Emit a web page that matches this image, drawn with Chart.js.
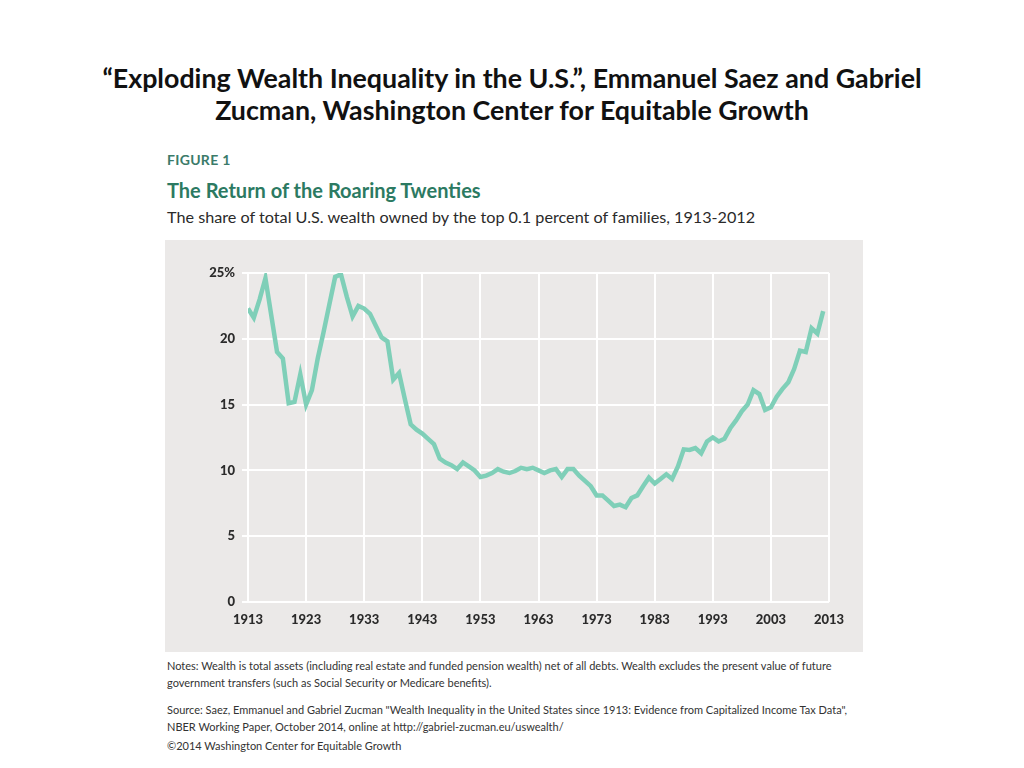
<!DOCTYPE html>
<html>
<head>
<meta charset="utf-8">
<script src="https://cdn.jsdelivr.net/npm/chart.js@4"></script>
<style>
    body { margin: 0; width: 1024px; height: 768px; background: #fff; position: relative; overflow: hidden; font-family: Lato, sans-serif; }
    .title { position: absolute; left: 0; width: 1024px; top: 62px; text-align: center; font-weight: bold; font-size: 26.8px; line-height: 32px; color: #111; }
    .fig { position: absolute; left: 167px; top: 151px; font-size: 14px; font-weight: bold; color: #3b7b6a; letter-spacing: 0.3px; }
    .head { position: absolute; left: 167px; top: 178px; font-size: 20px; font-weight: bold; color: #2c7a62; }
    .sub { position: absolute; left: 167px; top: 207px; font-size: 16.2px; color: #2a2a2a; }
    .panel { position: absolute; left: 165px; top: 240px; width: 698px; height: 412px; background: #ebe9e8; }
    .notes { position: absolute; left: 167px; font-size: 11px; color: #333; line-height: 17px; }
</style>
</head>
<body>
<div class="title">“Exploding Wealth Inequality in the U.S.”, Emmanuel Saez and Gabriel<br>Zucman, Washington Center for Equitable Growth</div>
<div class="fig">FIGURE 1</div>
<div class="head">The Return of the Roaring Twenties</div>
<div class="sub">The share of total U.S. wealth owned by the top 0.1 percent of families, 1913-2012</div>
<div class="panel"><canvas id="chart" width="698" height="412"></canvas></div>
<div class="notes" style="top:657px">Notes: Wealth is total assets (including real estate and funded pension wealth) net of all debts. Wealth excludes the present value of future<br>government transfers (such as Social Security or Medicare benefits).</div>
<div class="notes" style="top:701px">Source: Saez, Emmanuel and Gabriel Zucman "Wealth Inequality in the United States since 1913: Evidence from Capitalized Income Tax Data",<br>NBER Working Paper, October 2014, online at http://gabriel-zucman.eu/uswealth/</div>
<div class="notes" style="top:737px">©2014 Washington Center for Equitable Growth</div>
<script>
"use strict";

const firstYear = 1913;
// share of wealth held by top 0.1%, one value per year 1913-2012
const top01Share = [
    22.3, 21.6, 23.0, 24.6, 21.8, 19.0, 18.5, 15.1, 15.2, 17.3,
    15.0, 16.1, 18.5, 20.5, 22.6, 24.7, 24.9, 23.2, 21.7, 22.5,
    22.3, 21.9, 21.0, 20.1, 19.8, 16.9, 17.4, 15.4, 13.5, 13.1,
    12.8, 12.4, 12.0, 10.9, 10.6, 10.4, 10.1, 10.6, 10.3, 10.0,
    9.5, 9.6, 9.8, 10.1, 9.9, 9.8, 9.95, 10.2, 10.1, 10.2,
    10.0, 9.8, 10.0, 10.1, 9.5, 10.1, 10.1, 9.6, 9.2, 8.8,
    8.1, 8.1, 7.7, 7.3, 7.4, 7.2, 7.9, 8.1, 8.8, 9.45,
    9.0, 9.35, 9.7, 9.35, 10.3, 11.6, 11.55, 11.7, 11.3, 12.2,
    12.5, 12.2, 12.4, 13.2, 13.8, 14.5, 15.0, 16.1, 15.8, 14.6,
    14.8, 15.6, 16.2, 16.7, 17.7, 19.1, 19.0, 20.8, 20.4, 22.1
];
const xTicks = [1913, 1923, 1933, 1943, 1953, 1963, 1973, 1983, 1993, 2003, 2013];
const yTicks = [0, 5, 10, 15, 20, 25];

const points = top01Share.map((v, i) => ({ x: firstYear + i, y: v }));
const tickFont = { family: 'Lato', weight: '900', size: 13 };

new Chart(document.getElementById('chart'), {
    type: 'line',
    data: {
        datasets: [{
            data: points,
            borderColor: '#7fcfb8',
            borderWidth: 4.5,
            pointRadius: 0,
            tension: 0,
            fill: false
        }]
    },
    options: {
        responsive: false,
        animation: false,
        layout: { padding: { top: 33, right: 34, left: 0, bottom: 0 } },
        plugins: { legend: { display: false }, tooltip: { enabled: false } },
        scales: {
            x: {
                type: 'linear',
                min: 1913,
                max: 2013,
                afterBuildTicks: (s) => { s.ticks = xTicks.map(v => ({ value: v })); },
                afterFit: (s) => { s.height = 50; },
                grid: { color: '#ffffff', lineWidth: 2, drawTicks: false },
                border: { display: false },
                ticks: { color: '#2b2b2b', font: tickFont, padding: 10, maxRotation: 0, callback: v => String(v) }
            },
            y: {
                min: 0,
                max: 25,
                afterBuildTicks: (s) => { s.ticks = yTicks.map(v => ({ value: v })); },
                afterFit: (s) => { s.width = 83; },
                grid: { color: '#ffffff', lineWidth: 2, drawTicks: true, tickLength: 6 },
                border: { display: false },
                ticks: { color: '#2b2b2b', font: tickFont, padding: 7, callback: v => v === 25 ? '25%' : String(v) }
            }
        }
    }
});
</script>
</body>
</html>
